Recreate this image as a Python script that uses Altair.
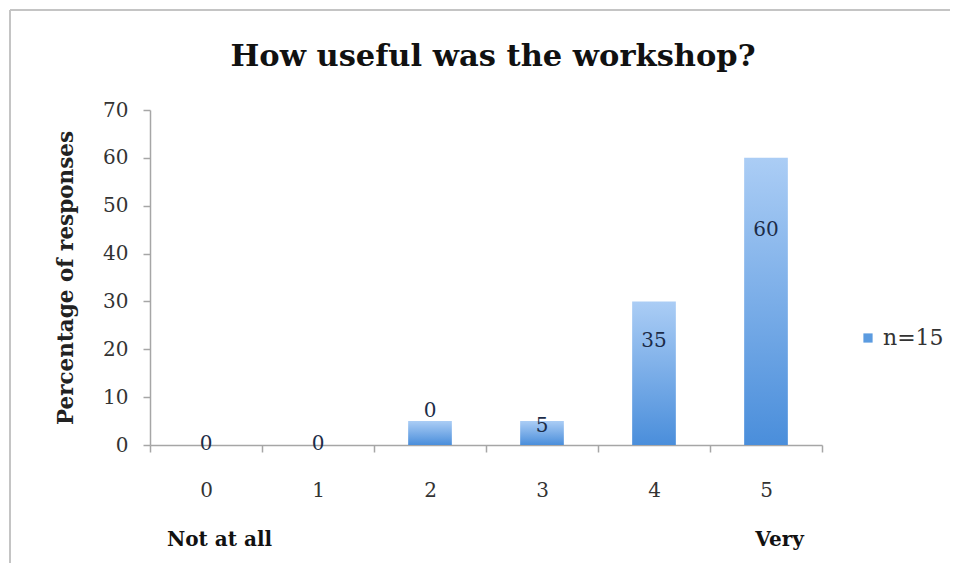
import altair as alt
import pandas as pd

categories = ["0", "1", "2", "3", "4", "5"]
heights = [0, 0, 5, 5, 30, 60]
labels = ["0", "0", "0", "5", "35", "60"]
label_y = [0.2, 0.2, 7.1, 4.0, 21.8, 44.9]
series_name = "n=15"
y_ticks = [0, 10, 20, 30, 40, 50, 60, 70]
end_cats = ["0", "5"]
end_texts = ["Not at all", "Very"]
chart_title = "How useful was the workshop?"
y_title = "Percentage of responses"

df = pd.DataFrame({"cat": categories, "value": heights, "label": labels,
                   "ly": label_y, "series": [series_name] * len(categories)})
ends = pd.DataFrame({"cat": end_cats, "txt": end_texts})

W, H = 672, 335
FONT = "DejaVu Serif"
GRAY = "#a6a6a6"

xscale = alt.Scale(domain=categories, paddingInner=0, paddingOuter=0)
yscale = alt.Scale(domain=[0, 70])

x_enc = alt.X("cat:N", sort=categories, scale=xscale,
              axis=alt.Axis(title=None, labelAngle=0, tickBand="extent", tickSize=7,
                            labelPadding=28, labelFont=FONT, labelFontSize=20,
                            labelColor="#333333", tickColor=GRAY, domainColor=GRAY,
                            domainWidth=1.5, tickWidth=1.5))

grad = alt.Gradient(gradient="linear",
                    stops=[alt.GradientStop(color="#4a8edb", offset=0),
                           alt.GradientStop(color="#abcdf5", offset=1)],
                    x1=0, x2=0, y1=1, y2=0)

bars = alt.Chart(df).mark_bar(fill=grad, width=alt.RelativeBandSize(0.39)).encode(
    x=x_enc,
    y=alt.Y("value:Q", scale=yscale,
            axis=alt.Axis(values=y_ticks, title=y_title, grid=False, tickSize=7,
                          labelPadding=15, labelFont=FONT, labelFontSize=20,
                          labelColor="#333333", tickColor=GRAY, domainColor=GRAY,
                          domainWidth=1.5, tickWidth=1.5, titleFont=FONT,
                          titleFontSize=21.5, titleFontWeight="bold", titleColor="#222222",
                          titlePadding=25)),
)

legend_layer = alt.Chart(df).mark_point(shape="square", filled=True, opacity=0).encode(
    x=alt.X("cat:N", sort=categories, scale=xscale),
    y=alt.Y("value:Q", scale=yscale),
    color=alt.Color("series:N", scale=alt.Scale(range=["#5b9be0"]),
                    legend=alt.Legend(title=None, orient="none", legendX=707, legendY=217,
                                      symbolType="square", symbolSize=85, symbolOpacity=1,
                                      labelFont=FONT, labelFontSize=22, labelColor="#333333",
                                      symbolStrokeWidth=0)),
)

texts = alt.Chart(df).mark_text(font=FONT, fontSize=20, color="#1c2c48", baseline="middle").encode(
    x=alt.X("cat:N", sort=categories, scale=xscale),
    y=alt.Y("ly:Q", scale=yscale),
    text="label:N",
)

end_layer = alt.Chart(ends).mark_text(font=FONT, fontSize=20, fontWeight="bold",
                                      color="#111111", dx=13.5, baseline="middle").encode(
    x=alt.X("cat:N", sort=categories, scale=xscale),
    y=alt.value(H + 95),
    text="txt:N",
)

frame_top = alt.Chart(df).mark_rule(color="#c4c4c4", strokeWidth=2).encode(
    x=alt.value(-140), x2=alt.value(W + 200), y=alt.value(-100))
frame_left = alt.Chart(df).mark_rule(color="#c4c4c4", strokeWidth=2).encode(
    x=alt.value(-140), y=alt.value(-100), y2=alt.value(H + 200))

chart = alt.layer(frame_top, frame_left, bars, legend_layer, texts, end_layer).properties(
    width=W, height=H,
    title=alt.TitleParams(chart_title, font=FONT, fontSize=30.5, fontWeight="bold",
                          color="#111111", offset=-63, anchor="middle", dx=7, frame="group"),
    autosize=alt.AutoSizeParams(type="none"),
    padding={"left": 142, "top": 102, "right": 128, "bottom": 118},
).configure_view(stroke=None)

chart.save("out.html", embed_options={"renderer": "svg", "actions": False})
